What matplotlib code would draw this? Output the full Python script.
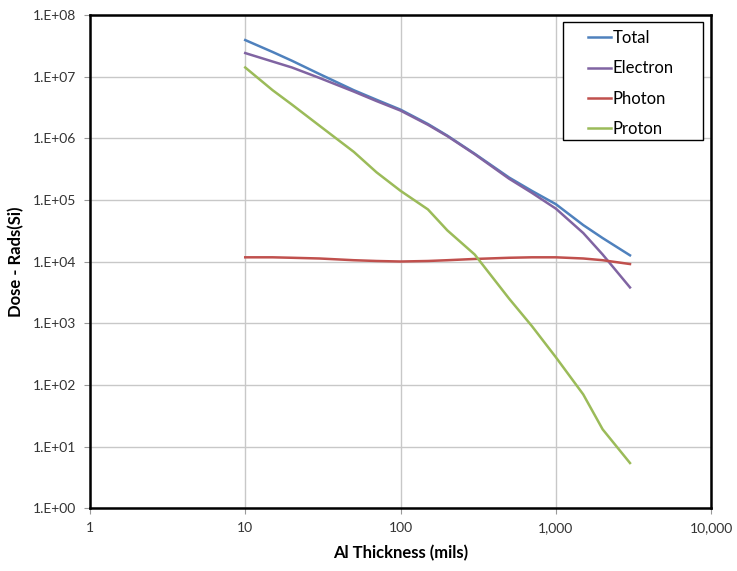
import matplotlib
matplotlib.use("Agg")
import matplotlib.pyplot as plt
from matplotlib.patches import Rectangle
from matplotlib.ticker import FixedLocator, FixedFormatter, NullLocator

plt.rcParams['font.family'] = ['Lato', 'DejaVu Sans']

thickness = [10, 15, 20, 30, 50, 70, 100, 150, 200, 300, 500, 700, 1000, 1500, 2000, 3000]
total = [3.9e7, 2.5e7, 1.8e7, 1.1e7, 6.0e6, 4.2e6, 2.9e6, 1.7e6, 1.1e6, 5.6e5, 2.3e5, 1.4e5, 8.5e4, 3.9e4, 2.4e4, 1.26e4]
electron = [2.4e7, 1.75e7, 1.4e7, 9.5e6, 5.7e6, 4.0e6, 2.8e6, 1.65e6, 1.08e6, 5.5e5, 2.2e5, 1.3e5, 7.2e4, 2.9e4, 1.3e4, 3.8e3]
photon = [1.17e4, 1.17e4, 1.15e4, 1.12e4, 1.05e4, 1.02e4, 1.0e4, 1.02e4, 1.05e4, 1.1e4, 1.15e4, 1.17e4, 1.17e4, 1.12e4, 1.05e4, 9.1e3]
proton = [1.4e7, 6.0e6, 3.5e6, 1.6e6, 6.0e5, 2.8e5, 1.4e5, 7.0e4, 3.2e4, 1.3e4, 2.5e3, 9.0e2, 2.8e2, 7.0e1, 1.9e1, 5.4]

x_ticks = [1, 10, 100, 1000, 10000]
x_labels = ["1", "10", "100", "1,000", "10,000"]
y_ticks = [1e0, 1e1, 1e2, 1e3, 1e4, 1e5, 1e6, 1e7, 1e8]
y_labels = ["1.E+00", "1.E+01", "1.E+02", "1.E+03", "1.E+04", "1.E+05", "1.E+06", "1.E+07", "1.E+08"]

fig = plt.figure(figsize=(7.37, 5.71), dpi=100)
ax = fig.add_axes([0.122, 0.110, 0.843, 0.864])

ax.plot(thickness, total, color="#4F81BD", lw=1.8, label="Total")
ax.plot(thickness, electron, color="#8064A2", lw=1.8, label="Electron")
ax.plot(thickness, photon, color="#C0504D", lw=1.8, label="Photon")
ax.plot(thickness, proton, color="#9BBB59", lw=1.8, label="Proton")

ax.set_xscale("log")
ax.set_yscale("log")
ax.set_xlim(1, 10000)
ax.set_ylim(1, 1e8)
ax.xaxis.set_major_locator(FixedLocator(x_ticks))
ax.xaxis.set_major_formatter(FixedFormatter(x_labels))
ax.xaxis.set_minor_locator(NullLocator())
ax.yaxis.set_major_locator(FixedLocator(y_ticks))
ax.yaxis.set_major_formatter(FixedFormatter(y_labels))
ax.yaxis.set_minor_locator(NullLocator())
ax.grid(True, color="#c8c8c8", lw=1.0)
ax.set_axisbelow(True)
for s in ax.spines.values():
    s.set_linewidth(1.8)
    s.set_color("black")
ax.tick_params(axis="both", which="major", direction="out", length=4, color="#999999",
               labelsize=10, labelcolor="#333333", pad=6)

ax.set_xlabel("Al Thickness (mils)", fontsize=12, fontweight="bold", labelpad=8)
ax.set_ylabel("Dose - Rads(Si)", fontsize=12, fontweight="bold", labelpad=6)

# legend box
ax.add_patch(Rectangle((0.762, 0.7465), 0.2254, 0.239, transform=ax.transAxes,
                       facecolor="white", edgecolor="black", lw=1.0, zorder=5))
leg = ax.legend(loc="upper left", bbox_to_anchor=(0.802, 0.969), fontsize=12,
                frameon=False, handlelength=1.35, handletextpad=0.1,
                labelspacing=0.86, borderpad=0, borderaxespad=0)
leg.set_zorder(6)

fig.savefig("out.png", dpi=100)
